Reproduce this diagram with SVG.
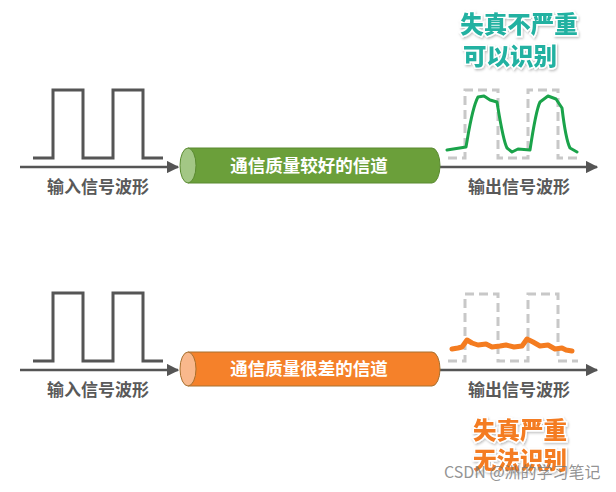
<svg xmlns="http://www.w3.org/2000/svg" width="616" height="492" viewBox="0 0 616 492">
<defs>
<style>
.wave{fill:none;stroke:#555;stroke-width:3;stroke-linejoin:miter}
.dash{fill:none;stroke:#c8c8c8;stroke-width:3;stroke-dasharray:9 5}
.axis{fill:none;stroke:#555;stroke-width:2.5}
.lbl{font-family:"Noto Sans CJK SC","Noto Sans",sans-serif;font-weight:bold;font-size:17px;fill:#595959;text-anchor:middle}
.ch{font-family:"Noto Sans CJK SC","Noto Sans",sans-serif;font-weight:bold;font-size:17.5px;fill:#fff;text-anchor:middle}
.big{font-family:"Noto Sans CJK SC","Noto Sans",sans-serif;font-weight:900;font-size:23.5px;text-anchor:middle;stroke:#fff;stroke-width:3;paint-order:stroke;filter:url(#sh)}
.wm{font-family:"Noto Sans CJK SC","Noto Sans",sans-serif;font-size:16px;fill:#777;fill-opacity:0.8}
</style>
<marker id="ar" viewBox="0 0 10 10" refX="9" refY="5" markerWidth="5" markerHeight="5" orient="auto" markerUnits="strokeWidth">
<path d="M0,0 L10,5 L0,10 z" fill="#555"/>
</marker>
<filter id="sh" x="-10%" y="-20%" width="120%" height="140%">
<feDropShadow dx="1" dy="1.5" stdDeviation="1" flood-color="#000" flood-opacity="0.25"/>
</filter>
</defs>

<g id="connectors">
<line class="axis" x1="20" y1="167" x2="178" y2="167" marker-end="url(#ar)"/>
<line class="axis" x1="440" y1="167" x2="597" y2="167" marker-end="url(#ar)"/>
<line class="axis" x1="20" y1="370" x2="178" y2="370" marker-end="url(#ar)"/>
<line class="axis" x1="440" y1="370" x2="597" y2="370" marker-end="url(#ar)"/>
</g>

<g id="input-top">
<path class="wave" d="M33,158 H53 V90 H83 V158 H113 V90 H143 V158 H163"/>
<text class="lbl" x="98" y="193">输入信号波形</text>
</g>

<g id="channel-good">
<path d="M188,148 H432 A8,17.5 0 0 1 432,183 H188 Z" fill="#6b9f3a" stroke="#5a8a30" stroke-width="1"/>
<ellipse cx="188" cy="165.5" rx="8" ry="17.5" fill="#a3c785" stroke="#5a8a30" stroke-width="1"/>
<text class="ch" x="309" y="172">通信质量较好的信道</text>
</g>

<g id="output-top">
<path class="dash" d="M448,158 H465 V90 H498 V158 H528 V90 H558 V158 H578"/>
<path d="M447,150 L466,147 C469,130 472,108 478,97 L484,96 L490,100 L497,102 C500,120 503,140 507,148 L512,152 L518,149 L530,150 C533,130 536,110 540,102 L548,96 L556,99 L562,108 C564,125 566,140 570,148 L577,152" fill="none" stroke="#1aa34a" stroke-width="3" stroke-linejoin="round" stroke-linecap="round"/>
<text class="lbl" x="519" y="193">输出信号波形</text>
<text class="big" x="519" y="33" fill="#20b1a1">失真不严重</text>
<text class="big" x="510" y="65" fill="#20b1a1">可以识别</text>
</g>

<g id="input-bottom">
<path class="wave" d="M33,361 H53 V293 H83 V361 H113 V293 H143 V361 H163"/>
<text class="lbl" x="98" y="396">输入信号波形</text>
</g>

<g id="channel-bad">
<path d="M188,352 H432 A8,17 0 0 1 432,386 H188 Z" fill="#f5812a" stroke="#a8702e" stroke-width="1"/>
<ellipse cx="188" cy="369" rx="8" ry="17" fill="#f9b88c" stroke="#a8702e" stroke-width="1"/>
<text class="ch" x="309" y="375">通信质量很差的信道</text>
</g>

<g id="output-bottom">
<path class="dash" d="M448,361 H465 V294 H498 V361 H528 V294 H558 V361 H578"/>
<path d="M452,349 L458,348 L462,347 L467,340 L472,343 L478,345 L486,344 L492,347 L500,346 L506,345 L514,347 L522,346 L527,339 L533,342 L540,346 L548,345 L555,349 L562,348 L566,350 L572,351" fill="none" stroke="#f47c20" stroke-width="5" stroke-linejoin="round" stroke-linecap="round"/>
<text class="lbl" x="519" y="396">输出信号波形</text>
<text class="big" x="520" y="439" fill="#f47c20">失真严重</text>
<text class="big" x="520" y="469" fill="#f47c20">无法识别</text>
</g>

<text class="wm" x="444" y="478">CSDN @洲的学习笔记</text>
</svg>
